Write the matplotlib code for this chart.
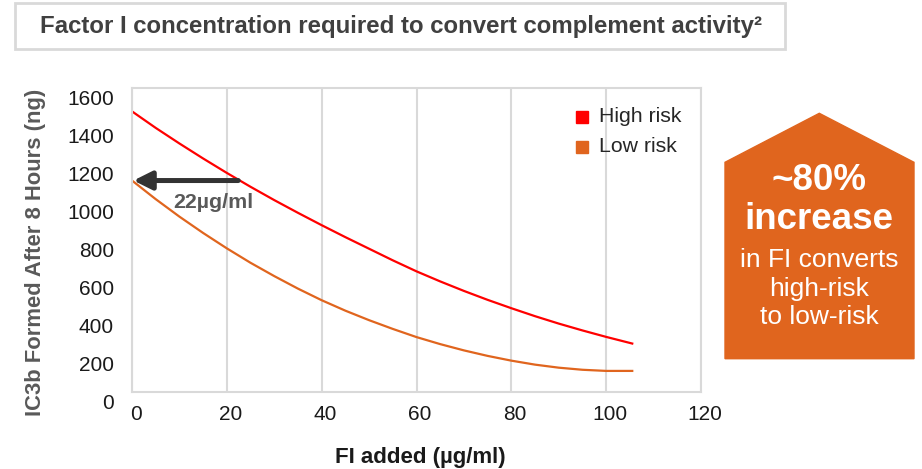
import matplotlib.pyplot as plt
import matplotlib.transforms as mtransforms
from matplotlib.patches import Rectangle, Polygon

plt.rcParams['font.family'] = ['Liberation Sans', 'DejaVu Sans']

# data
fi_added = [0, 5, 10, 15, 20, 25, 30, 35, 40, 45, 50, 55, 60, 65, 70, 75, 80, 85, 90, 95, 100, 105.5]
high_risk = [1477, 1390, 1308, 1229, 1153, 1080, 1010, 943, 878, 815, 754, 693, 635, 582, 532,
             485, 441, 399, 360, 324, 290, 255]
low_risk = [1113, 1015, 923, 837, 756, 680, 610, 544, 483, 428, 378, 332, 289, 252, 219,
            190, 165, 144, 128, 117, 111, 111]
x_ticks = [0, 20, 40, 60, 80, 100, 120]
y_ticks = [0, 200, 400, 600, 800, 1000, 1200, 1400, 1600]
arrow_x = 22.4
arrow_y = 1113

red = '#FF0000'
orange = '#E0651E'
grid = '#D9D9D9'

fig = plt.figure(figsize=(9.22, 4.69), dpi=100)
ax = fig.add_axes([132 / 922, 77 / 469, 569 / 922, 304 / 469])

ax.plot(fi_added, high_risk, color=red, lw=1.6, label='High risk')
ax.plot(fi_added, low_risk, color=orange, lw=1.6, label='Low risk')

ax.set_xlim(0, 120)
ax.set_ylim(0, 1600)
ax.set_xticks(x_ticks)
ax.set_yticks(y_ticks)
ax.xaxis.grid(True, color=grid, lw=1.5)
ax.set_axisbelow(True)
for s in ax.spines.values():
    s.set_color(grid)
    s.set_linewidth(1.5)
ax.tick_params(length=0, labelsize=15, labelcolor='#1A1A1A')
ax.tick_params(axis='y', pad=13)
ax.tick_params(axis='x', pad=9)

# labels sit a bit lower / right of their ticks in the original
off_y = mtransforms.ScaledTranslation(0, -9.5 / 100, fig.dpi_scale_trans)
for lab in ax.get_yticklabels():
    lab.set_transform(lab.get_transform() + off_y)
off_x = mtransforms.ScaledTranslation(3.5 / 100, 0, fig.dpi_scale_trans)
for lab in ax.get_xticklabels():
    lab.set_transform(lab.get_transform() + off_x)

fig.text(420 / 922, 1 - 457 / 469, 'FI added (µg/ml)', ha='center', va='center',
         fontsize=16, fontweight='bold', color='#1A1A1A')
fig.text(36 / 922, 1 - 252 / 469, 'IC3b Formed After 8 Hours (ng)', ha='center', va='center',
         rotation=90, fontsize=15.8, fontweight='bold', color='#595959')

# arrow to the y axis
ax.annotate('', xy=(0.3, arrow_y), xytext=(arrow_x, arrow_y),
            arrowprops=dict(arrowstyle='-|>,head_length=1.1,head_width=0.55',
                            color='#333333', lw=3.6, shrinkA=0, shrinkB=0))
ax.text(8.8, 1000, '22µg/ml', ha='left', va='center', fontsize=15.4,
        fontweight='bold', color='#595959')

# legend (square markers drawn by hand to match the original spacing)
for i, (name, c) in enumerate([('High risk', red), ('Low risk', orange)]):
    yy = 1 - (116.7 + 30 * i) / 469
    fig.patches.append(Rectangle((576 / 922, yy - 6 / 469), 12 / 922, 12 / 469,
                                 transform=fig.transFigure, color=c))
    fig.text(599 / 922, yy, name, ha='left', va='center', fontsize=15.3, color='#262626')

# title box
fig.patches.append(Rectangle((15 / 922, 1 - 49 / 469), 770 / 922, 46 / 469,
                             transform=fig.transFigure, fill=False, ec=grid, lw=2))
fig.text(401 / 922, 1 - 26 / 469, 'Factor I concentration required to convert complement activity²',
         ha='center', va='center', fontsize=17.3, fontweight='bold', color='#404040')

# callout shape
pts = [(725, 358.7), (725, 162.3), (819.3, 113.3), (914, 162.3), (914, 358.7)]
fig.patches.append(Polygon([(px / 922, 1 - py / 469) for px, py in pts],
                           closed=True, transform=fig.transFigure, color=orange))
fig.text(819 / 922, 1 - 180 / 469, '~80%', ha='center', va='center', fontsize=26.5,
         fontweight='bold', color='white')
fig.text(819 / 922, 1 - 219 / 469, 'increase', ha='center', va='center', fontsize=26.5,
         fontweight='bold', color='white')
fig.text(819 / 922, 1 - 260 / 469, 'in FI converts', ha='center', va='center', fontsize=19,
         color='white')
fig.text(819 / 922, 1 - 289 / 469, 'high-risk', ha='center', va='center', fontsize=19,
         color='white')
fig.text(819 / 922, 1 - 317 / 469, 'to low-risk', ha='center', va='center', fontsize=19,
         color='white')

fig.savefig('out.png', dpi=100)
